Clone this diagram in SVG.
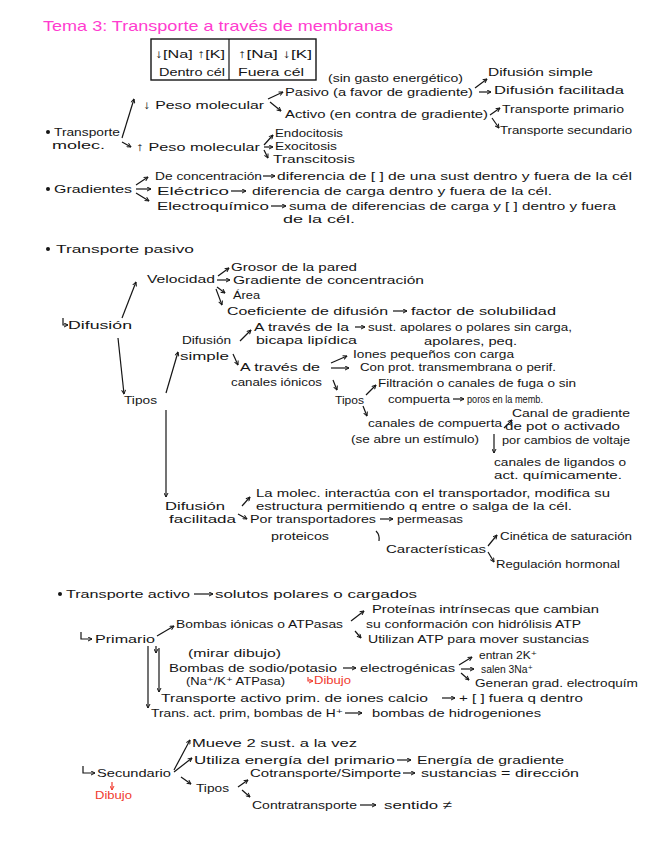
<svg xmlns="http://www.w3.org/2000/svg" width="646" height="848" viewBox="0 0 646 848">
<style>
text{font-family:"Liberation Sans","DejaVu Sans",sans-serif;font-size:11.5px;fill:#151515}
.ti{font-size:15px;fill:#ff3ccf}
.red{fill:#f03a2e;font-size:11px}
.c line,.c path{stroke:#151515;stroke-width:1.2;fill:none}
.c .a{marker-end:url(#ah)}
.c .r{stroke:#f03a2e;marker-end:url(#ahr)}
</style>
<defs>
<marker id="ah" viewBox="0 0 10 10" refX="9" refY="5" markerWidth="5" markerHeight="5" orient="auto" markerUnits="userSpaceOnUse"><path d="M1,1 L9,5 L1,9" fill="none" stroke="#151515" stroke-width="2"/></marker>
<marker id="ahr" viewBox="0 0 10 10" refX="9" refY="5" markerWidth="5" markerHeight="5" orient="auto" markerUnits="userSpaceOnUse"><path d="M1,1 L9,5 L1,9" fill="none" stroke="#f03a2e" stroke-width="2"/></marker>
</defs>
<rect width="646" height="848" fill="#fff"/>
<g id="title"><text class="ti" x="43" y="31" textLength="350" lengthAdjust="spacingAndGlyphs">Tema 3: Transporte a través de membranas</text></g>
<g id="box">
<rect x="151" y="39" width="165" height="41" fill="none" stroke="#151515" stroke-width="1.4"/>
<line x1="229" y1="39" x2="229" y2="80" stroke="#151515" stroke-width="1.2"/>
<text x="155" y="58" textLength="70" lengthAdjust="spacingAndGlyphs">↓[Na] ↑[K]</text>
<text x="238" y="58" textLength="74" lengthAdjust="spacingAndGlyphs">↑[Na] ↓[K]</text>
<text x="159" y="76" textLength="66" lengthAdjust="spacingAndGlyphs">Dentro cél</text>
<text x="238" y="76" textLength="66" lengthAdjust="spacingAndGlyphs">Fuera cél</text>
</g>
<g id="n-transporte-molec">
<circle cx="48" cy="132" r="2" fill="#151515"/>
<text x="54" y="136" textLength="66" lengthAdjust="spacingAndGlyphs">Transporte</text>
<text x="52" y="149" textLength="53" lengthAdjust="spacingAndGlyphs">molec.</text>
</g>
<g id="n-peso-bajo"><text x="143" y="109" textLength="121" lengthAdjust="spacingAndGlyphs">↓ Peso molecular</text></g>
<g id="n-peso-alto"><text x="136" y="151" textLength="124" lengthAdjust="spacingAndGlyphs">↑ Peso molecular</text></g>
<g id="n-sin-gasto"><text x="328" y="82" textLength="135" lengthAdjust="spacingAndGlyphs">(sin gasto energético)</text></g>
<g id="n-pasivo"><text x="285" y="96" textLength="188" lengthAdjust="spacingAndGlyphs">Pasivo (a favor de gradiente)</text></g>
<g id="n-activo"><text x="285" y="118" textLength="203" lengthAdjust="spacingAndGlyphs">Activo (en contra de gradiente)</text></g>
<g id="n-dif-simple"><text x="488" y="76" textLength="105" lengthAdjust="spacingAndGlyphs">Difusión simple</text></g>
<g id="n-dif-facil"><text x="494" y="94" textLength="130" lengthAdjust="spacingAndGlyphs">Difusión facilitada</text></g>
<g id="n-t-primario"><text x="502" y="113" textLength="122" lengthAdjust="spacingAndGlyphs">Transporte primario</text></g>
<g id="n-t-secundario"><text x="500" y="134" textLength="132" lengthAdjust="spacingAndGlyphs">Transporte secundario</text></g>
<g id="n-endo"><text x="275" y="137" textLength="68" lengthAdjust="spacingAndGlyphs">Endocitosis</text></g>
<g id="n-exo"><text x="275" y="150" textLength="62" lengthAdjust="spacingAndGlyphs">Exocitosis</text></g>
<g id="n-trans"><text x="273" y="163" textLength="82" lengthAdjust="spacingAndGlyphs">Transcitosis</text></g>
<g id="n-gradientes">
<circle cx="48" cy="189" r="2" fill="#151515"/>
<text x="54" y="193" textLength="78" lengthAdjust="spacingAndGlyphs">Gradientes</text>
</g>
<g id="n-concentracion">
<text x="155" y="180" textLength="107" lengthAdjust="spacingAndGlyphs">De concentración</text>
<text x="277" y="180" textLength="355" lengthAdjust="spacingAndGlyphs">diferencia de [ ] de una sust dentro y fuera de la cél</text>
</g>
<g id="n-electrico">
<text x="157" y="195" textLength="72" lengthAdjust="spacingAndGlyphs">Eléctrico</text>
<text x="252" y="195" textLength="300" lengthAdjust="spacingAndGlyphs">diferencia de carga dentro y fuera de la cél.</text>
</g>
<g id="n-electroquimico">
<text x="157" y="210" textLength="112" lengthAdjust="spacingAndGlyphs">Electroquímico</text>
<text x="289" y="210" textLength="327" lengthAdjust="spacingAndGlyphs">suma de diferencias de carga y [ ] dentro y fuera</text>
<text x="283" y="223" textLength="72" lengthAdjust="spacingAndGlyphs">de la cél.</text>
</g>
<g id="n-pasivo-h">
<circle cx="48" cy="249" r="2" fill="#151515"/>
<text x="56" y="253" textLength="138" lengthAdjust="spacingAndGlyphs">Transporte pasivo</text>
</g>
<g id="n-velocidad"><text x="147" y="283" textLength="68" lengthAdjust="spacingAndGlyphs">Velocidad</text></g>
<g id="n-grosor"><text x="231" y="271" textLength="126" lengthAdjust="spacingAndGlyphs">Grosor de la pared</text></g>
<g id="n-gradconc"><text x="233" y="284" textLength="191" lengthAdjust="spacingAndGlyphs">Gradiente de concentración</text></g>
<g id="n-area"><text x="233" y="299" textLength="27" lengthAdjust="spacingAndGlyphs">Área</text></g>
<g id="n-coef">
<text x="227" y="315" textLength="161" lengthAdjust="spacingAndGlyphs">Coeficiente de difusión</text>
<text x="411" y="315" textLength="145" lengthAdjust="spacingAndGlyphs">factor de solubilidad</text>
</g>
<g id="n-difusion"><text x="68" y="329" textLength="64" lengthAdjust="spacingAndGlyphs">Difusión</text></g>
<g id="n-tipos1"><text x="124" y="404" textLength="33" lengthAdjust="spacingAndGlyphs">Tipos</text></g>
<g id="n-difsimple2">
<text x="182" y="344" textLength="49" lengthAdjust="spacingAndGlyphs">Difusión</text>
<text x="180" y="360" textLength="49" lengthAdjust="spacingAndGlyphs">simple</text>
</g>
<g id="n-bicapa">
<text x="254" y="331" textLength="95" lengthAdjust="spacingAndGlyphs">A través de la</text>
<text x="256" y="344" textLength="101" lengthAdjust="spacingAndGlyphs">bicapa lipídica</text>
</g>
<g id="n-sust">
<text x="368" y="331" textLength="204" lengthAdjust="spacingAndGlyphs">sust. apolares o polares sin carga,</text>
<text x="424" y="345" textLength="93" lengthAdjust="spacingAndGlyphs">apolares, peq.</text>
</g>
<g id="n-canales-ionicos">
<text x="240" y="371" textLength="80" lengthAdjust="spacingAndGlyphs">A través de</text>
<text x="231" y="386" textLength="91" lengthAdjust="spacingAndGlyphs">canales iónicos</text>
</g>
<g id="n-iones"><text x="353" y="358" textLength="161" lengthAdjust="spacingAndGlyphs">Iones pequeños con carga</text></g>
<g id="n-conprot"><text x="360" y="371" textLength="196" lengthAdjust="spacingAndGlyphs">Con prot. transmembrana o perif.</text></g>
<g id="n-tipos2"><text x="335" y="404" textLength="29" lengthAdjust="spacingAndGlyphs">Tipos</text></g>
<g id="n-filtracion">
<text x="378" y="387" textLength="198" lengthAdjust="spacingAndGlyphs">Filtración o canales de fuga o sin</text>
<text x="388" y="403" textLength="62" lengthAdjust="spacingAndGlyphs">compuerta</text>
<text x="467" y="403" textLength="76" lengthAdjust="spacingAndGlyphs">poros en la memb.</text>
</g>
<g id="n-compuerta">
<text x="368" y="427" textLength="134" lengthAdjust="spacingAndGlyphs">canales de compuerta</text>
<text x="351" y="443" textLength="128" lengthAdjust="spacingAndGlyphs">(se abre un estímulo)</text>
</g>
<g id="n-gradpot">
<text x="512" y="417" textLength="118" lengthAdjust="spacingAndGlyphs">Canal de gradiente</text>
<text x="505" y="430" textLength="115" lengthAdjust="spacingAndGlyphs">de pot o activado</text>
<text x="502" y="444" textLength="128" lengthAdjust="spacingAndGlyphs">por cambios de voltaje</text>
</g>
<g id="n-ligandos">
<text x="494" y="466" textLength="132" lengthAdjust="spacingAndGlyphs">canales de ligandos o</text>
<text x="494" y="479" textLength="128" lengthAdjust="spacingAndGlyphs">act. químicamente.</text>
</g>
<g id="n-diffacil2">
<text x="165" y="510" textLength="60" lengthAdjust="spacingAndGlyphs">Difusión</text>
<text x="169" y="523" textLength="67" lengthAdjust="spacingAndGlyphs">facilitada</text>
</g>
<g id="n-molec">
<text x="256" y="497" textLength="354" lengthAdjust="spacingAndGlyphs">La molec. interactúa con el transportador, modifica su</text>
<text x="256" y="510" textLength="316" lengthAdjust="spacingAndGlyphs">estructura permitiendo q entre o salga de la cél.</text>
</g>
<g id="n-portrans">
<text x="250" y="523" textLength="126" lengthAdjust="spacingAndGlyphs">Por transportadores</text>
<text x="271" y="540" textLength="58" lengthAdjust="spacingAndGlyphs">proteicos</text>
</g>
<g id="n-permeasas"><text x="397" y="523" textLength="66" lengthAdjust="spacingAndGlyphs">permeasas</text></g>
<g id="n-caract"><text x="386" y="553" textLength="100" lengthAdjust="spacingAndGlyphs">Características</text></g>
<g id="n-cinetica"><text x="500" y="540" textLength="132" lengthAdjust="spacingAndGlyphs">Cinética de saturación</text></g>
<g id="n-regulacion"><text x="496" y="568" textLength="124" lengthAdjust="spacingAndGlyphs">Regulación hormonal</text></g>
<g id="n-activo-h">
<circle cx="60" cy="594" r="2" fill="#151515"/>
<text x="66" y="598" textLength="124" lengthAdjust="spacingAndGlyphs">Transporte activo</text>
<text x="215" y="598" textLength="202" lengthAdjust="spacingAndGlyphs">solutos polares o cargados</text>
</g>
<g id="n-primario"><text x="95" y="643" textLength="60" lengthAdjust="spacingAndGlyphs">Primario</text></g>
<g id="n-bombas-ionicas"><text x="176" y="628" textLength="167" lengthAdjust="spacingAndGlyphs">Bombas iónicas o ATPasas</text></g>
<g id="n-proteinas">
<text x="372" y="613" textLength="227" lengthAdjust="spacingAndGlyphs">Proteínas intrínsecas que cambian</text>
<text x="366" y="628" textLength="215" lengthAdjust="spacingAndGlyphs">su conformación con hidrólisis ATP</text>
</g>
<g id="n-utilizan"><text x="368" y="643" textLength="221" lengthAdjust="spacingAndGlyphs">Utilizan ATP para mover sustancias</text></g>
<g id="n-sodio">
<text x="188" y="657" textLength="93" lengthAdjust="spacingAndGlyphs">(mirar dibujo)</text>
<text x="169" y="672" textLength="168" lengthAdjust="spacingAndGlyphs">Bombas de sodio/potasio</text>
<text x="186" y="685" textLength="99" lengthAdjust="spacingAndGlyphs">(Na⁺/K⁺ ATPasa)</text>
<text class="red" x="314" y="684" textLength="37" lengthAdjust="spacingAndGlyphs">Dibujo</text>
</g>
<g id="n-electrogenicas"><text x="360" y="672" textLength="95" lengthAdjust="spacingAndGlyphs">electrogénicas</text></g>
<g id="n-entran"><text x="479" y="659" textLength="58" lengthAdjust="spacingAndGlyphs">entran 2K⁺</text></g>
<g id="n-salen"><text x="481" y="673" textLength="52" lengthAdjust="spacingAndGlyphs">salen 3Na⁺</text></g>
<g id="n-generan"><text x="475" y="687" textLength="163" lengthAdjust="spacingAndGlyphs">Generan grad. electroquím</text></g>
<g id="n-calcio">
<text x="161" y="702" textLength="267" lengthAdjust="spacingAndGlyphs">Transporte activo prim. de iones calcio</text>
<text x="459" y="702" textLength="124" lengthAdjust="spacingAndGlyphs">+ [ ] fuera q dentro</text>
</g>
<g id="n-hidrog">
<text x="151" y="717" textLength="192" lengthAdjust="spacingAndGlyphs">Trans. act. prim, bombas de H⁺</text>
<text x="372" y="717" textLength="169" lengthAdjust="spacingAndGlyphs">bombas de hidrogeniones</text>
</g>
<g id="n-secundario">
<text x="97" y="777" textLength="74" lengthAdjust="spacingAndGlyphs">Secundario</text>
<text class="red" x="95" y="799" textLength="37" lengthAdjust="spacingAndGlyphs">Dibujo</text>
</g>
<g id="n-mueve"><text x="192" y="747" textLength="165" lengthAdjust="spacingAndGlyphs">Mueve 2 sust. a la vez</text></g>
<g id="n-utiliza">
<text x="194" y="764" textLength="201" lengthAdjust="spacingAndGlyphs">Utiliza energía del primario</text>
<text x="417" y="764" textLength="147" lengthAdjust="spacingAndGlyphs">Energía de gradiente</text>
</g>
<g id="n-tipos3"><text x="196" y="792" textLength="33" lengthAdjust="spacingAndGlyphs">Tipos</text></g>
<g id="n-cotrans">
<text x="250" y="777" textLength="151" lengthAdjust="spacingAndGlyphs">Cotransporte/Simporte</text>
<text x="421" y="777" textLength="158" lengthAdjust="spacingAndGlyphs">sustancias = dirección</text>
</g>
<g id="n-contra">
<text x="252" y="809" textLength="105" lengthAdjust="spacingAndGlyphs">Contratransporte</text>
<text x="384" y="809" textLength="68" lengthAdjust="spacingAndGlyphs">sentido ≠</text>
</g>
<g id="connectors" class="c">
<line class="a" x1="122" y1="138" x2="134" y2="99"/>
<line class="a" x1="122" y1="142" x2="131" y2="147"/>
<line class="a" x1="268" y1="99" x2="283" y2="92"/>
<line class="a" x1="270" y1="102" x2="281" y2="111"/>
<line class="a" x1="475" y1="88" x2="487" y2="79"/>
<line class="a" x1="479" y1="92" x2="491" y2="92"/>
<line class="a" x1="490" y1="115" x2="500" y2="108"/>
<line class="a" x1="492" y1="118" x2="499" y2="128"/>
<line class="a" x1="264" y1="145" x2="273" y2="135"/>
<line class="a" x1="264" y1="147" x2="273" y2="147"/>
<line class="a" x1="264" y1="150" x2="268" y2="158"/>
<line class="a" x1="136" y1="185" x2="148" y2="177"/>
<line class="a" x1="136" y1="189" x2="151" y2="189"/>
<line class="a" x1="136" y1="193" x2="149" y2="201"/>
<line class="a" x1="263" y1="176" x2="275" y2="176"/>
<line class="a" x1="231" y1="191" x2="246" y2="191"/>
<line class="a" x1="271" y1="206" x2="286" y2="206"/>
<line class="a" x1="122" y1="318" x2="136" y2="282"/>
<line class="a" x1="118" y1="338" x2="124" y2="394"/>
<line class="a" x1="218" y1="276" x2="229" y2="268"/>
<line class="a" x1="217" y1="280" x2="230" y2="280"/>
<line class="a" x1="217" y1="287" x2="225" y2="293"/>
<line class="a" x1="216" y1="289" x2="222" y2="305"/>
<line class="a" x1="393" y1="311" x2="407" y2="311"/>
<path class="a" d="M63,318 L63,325 L68,325"/>
<line class="a" x1="166" y1="393" x2="178" y2="352"/>
<line class="a" x1="166" y1="410" x2="166" y2="497"/>
<line class="a" x1="240" y1="341" x2="251" y2="330"/>
<line class="a" x1="233" y1="354" x2="238" y2="365"/>
<line class="a" x1="355" y1="327" x2="365" y2="327"/>
<line class="a" x1="331" y1="363" x2="347" y2="356"/>
<line class="a" x1="331" y1="368" x2="349" y2="368"/>
<line class="a" x1="333" y1="380" x2="337" y2="390"/>
<line class="a" x1="366" y1="395" x2="376" y2="385"/>
<line class="a" x1="453" y1="399" x2="464" y2="399"/>
<line class="a" x1="363" y1="406" x2="367" y2="416"/>
<line class="a" x1="504" y1="428" x2="512" y2="420"/>
<line class="a" x1="494" y1="434" x2="494" y2="453"/>
<line class="a" x1="242" y1="506" x2="250" y2="497"/>
<line class="a" x1="238" y1="514" x2="247" y2="519"/>
<line class="a" x1="380" y1="519" x2="393" y2="519"/>
<path d="M376,531 Q380,535 379,541"/>
<line class="a" x1="488" y1="546" x2="497" y2="535"/>
<line class="a" x1="488" y1="552" x2="494" y2="562"/>
<line class="a" x1="194" y1="594" x2="213" y2="594"/>
<path class="a" d="M81,632 L81,639 L92,639"/>
<line class="a" x1="157" y1="636" x2="174" y2="626"/>
<line class="a" x1="351" y1="621" x2="364" y2="611"/>
<line class="a" x1="355" y1="631" x2="361" y2="638"/>
<line class="a" x1="156" y1="646" x2="156" y2="653"/>
<line class="a" x1="159" y1="648" x2="159" y2="692"/>
<line class="a" x1="148" y1="646" x2="148" y2="708"/>
<line class="a" x1="343" y1="668" x2="356" y2="668"/>
<path class="r" d="M308,677 L308,681 L313,681"/>
<line class="a" x1="459" y1="665" x2="472" y2="657"/>
<line class="a" x1="461" y1="669" x2="474" y2="669"/>
<line class="a" x1="461" y1="673" x2="469" y2="680"/>
<line class="a" x1="442" y1="698" x2="455" y2="698"/>
<line class="a" x1="345" y1="713" x2="362" y2="713"/>
<path class="a" d="M83,766 L83,773 L95,773"/>
<line class="a" x1="174" y1="770" x2="190" y2="740"/>
<line class="a" x1="174" y1="772" x2="192" y2="758"/>
<line class="a" x1="181" y1="777" x2="191" y2="784"/>
<line class="a" x1="397" y1="760" x2="411" y2="760"/>
<line class="a" x1="238" y1="787" x2="248" y2="780"/>
<line class="a" x1="242" y1="790" x2="250" y2="797"/>
<line class="a" x1="403" y1="773" x2="415" y2="773"/>
<line class="a" x1="360" y1="805" x2="376" y2="805"/>
<line class="r" x1="112" y1="782" x2="112" y2="790"/>
</g>
</svg>
